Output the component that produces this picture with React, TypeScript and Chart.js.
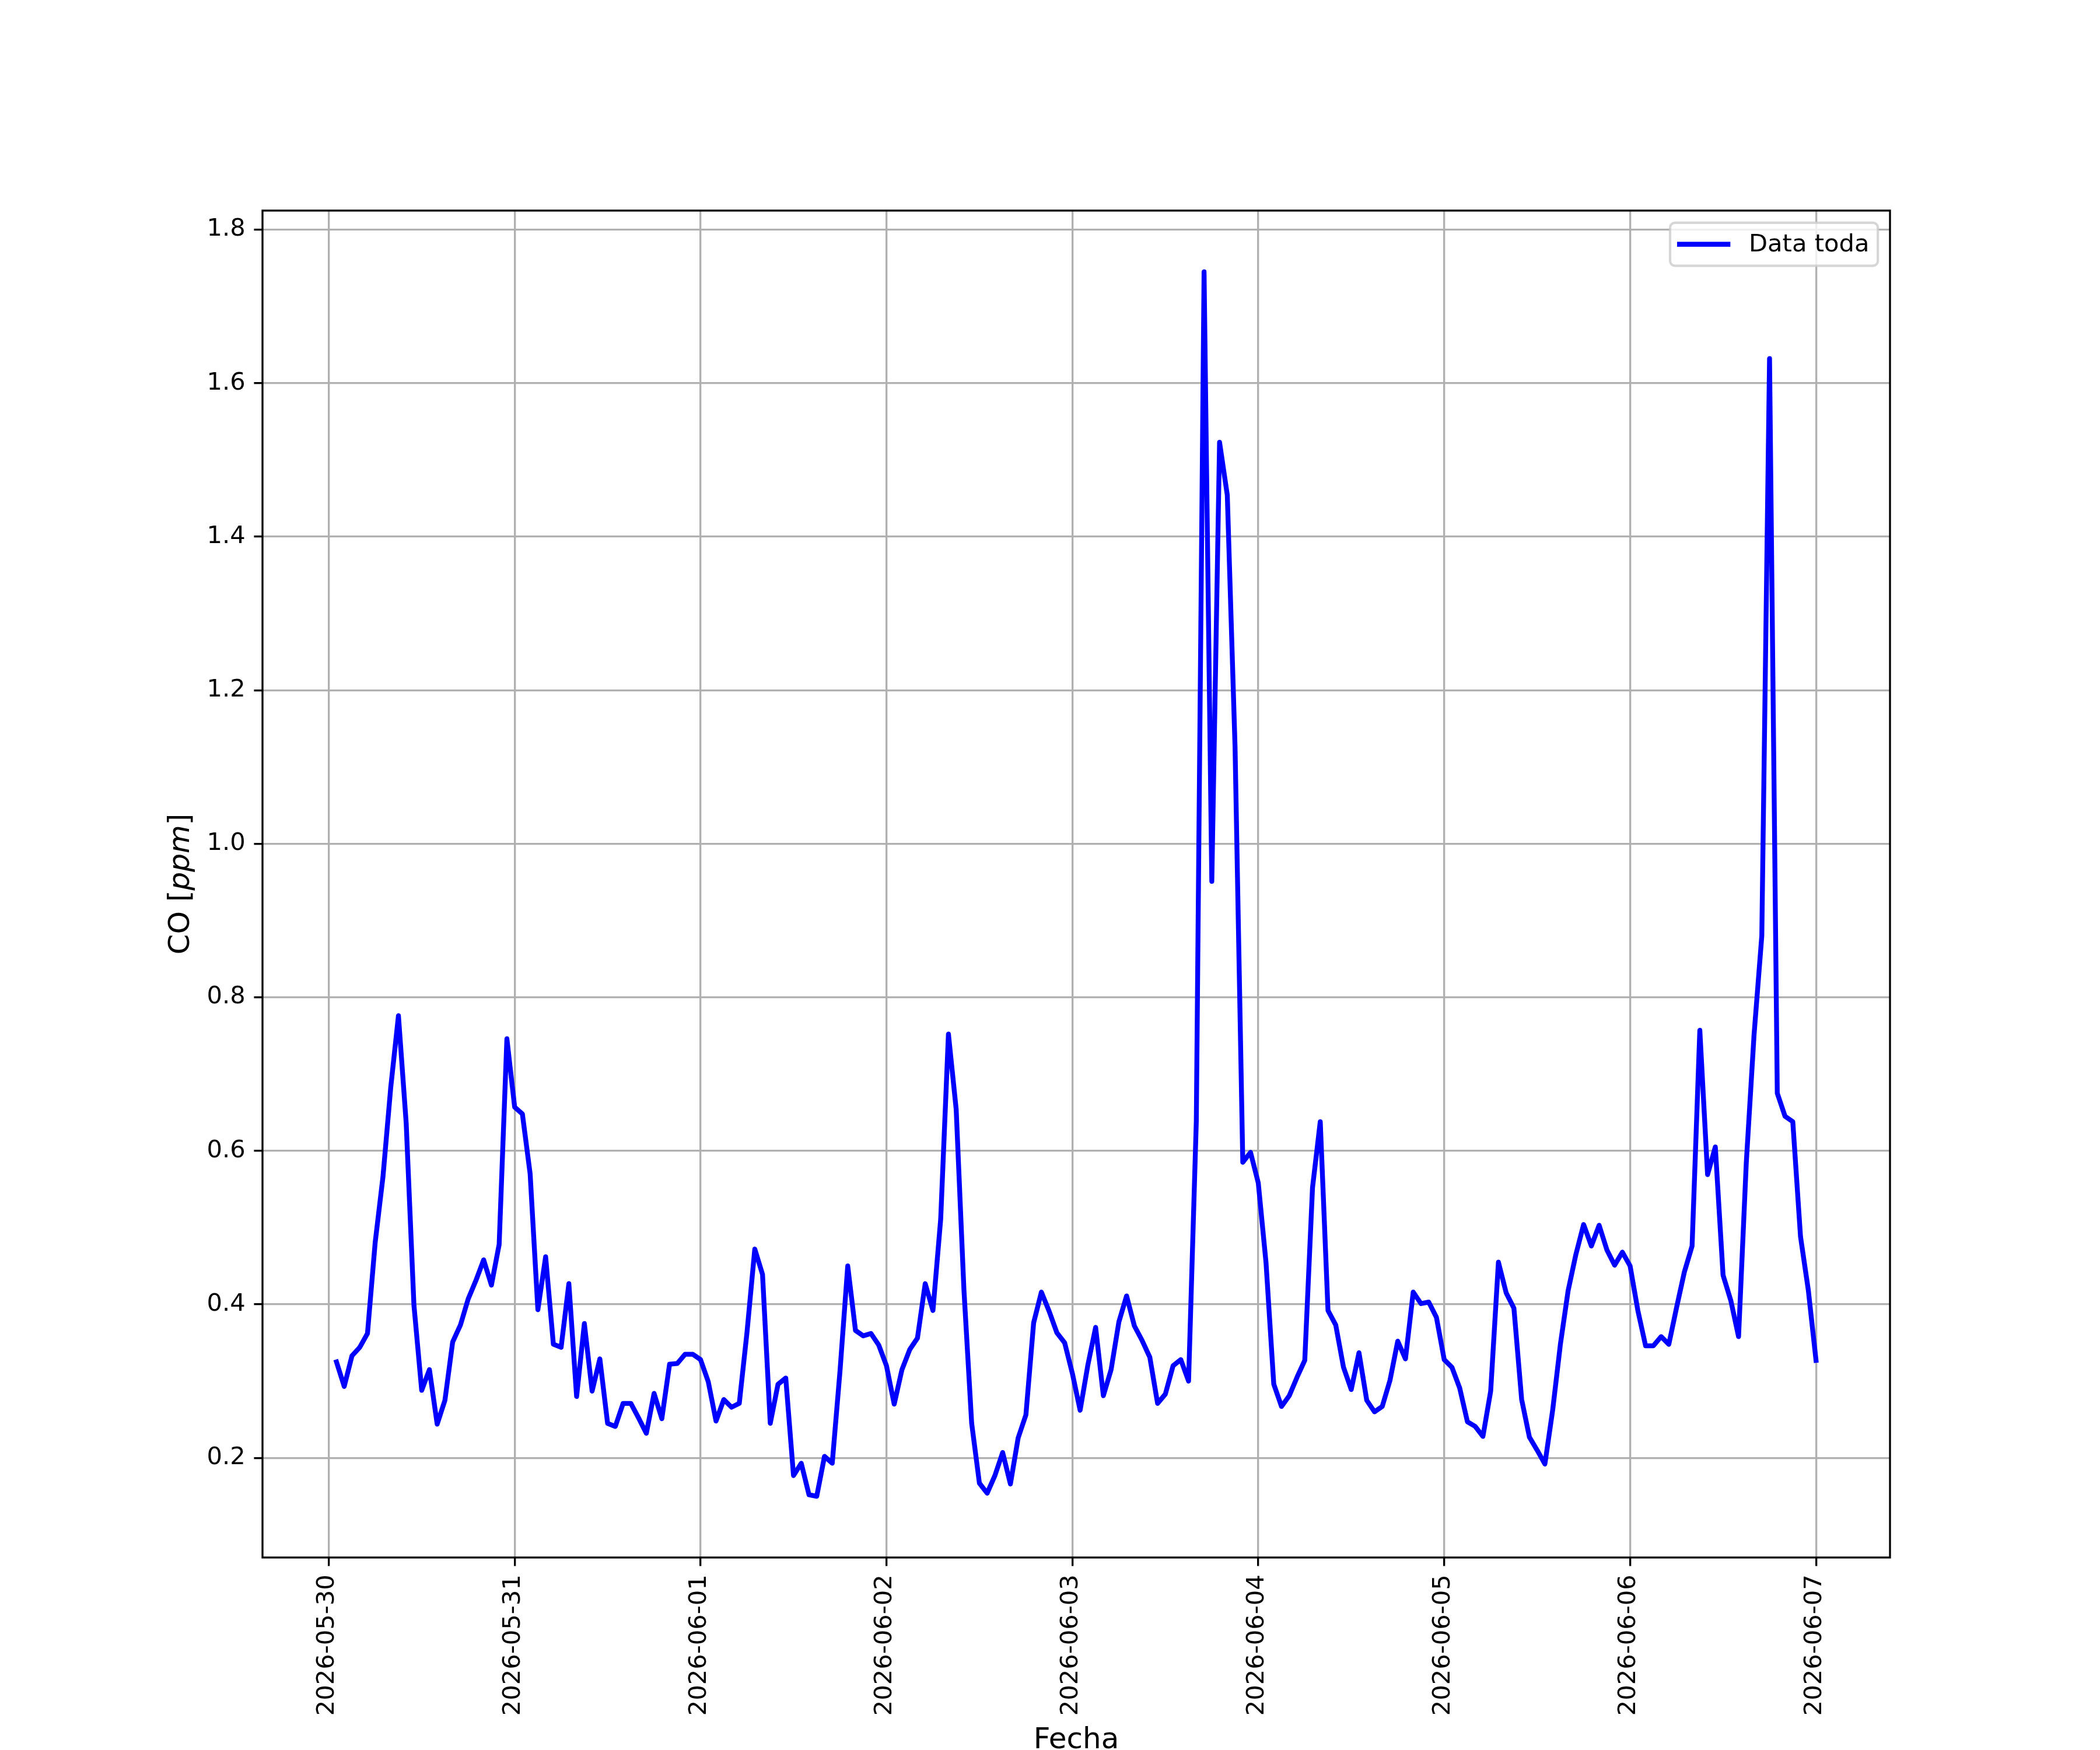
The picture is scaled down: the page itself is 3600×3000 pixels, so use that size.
import React, { useEffect, useRef } from "react";
import { Chart, registerables } from "chart.js";

Chart.register(...registerables);

// Tick labels for the x axis (one per day, at 00:00)
const dateLabels = [
  "2026-05-30", "2026-05-31", "2026-06-01", "2026-06-02", "2026-06-03",
  "2026-06-04", "2026-06-05", "2026-06-06", "2026-06-07",
];
const hoursPerDay = 24;
const firstHour = 1; // first reading: 2026-05-30 01:00

// Y tick values
const yTickValues = [0.2, 0.4, 0.6, 0.8, 1.0, 1.2, 1.4, 1.6, 1.8];

// Hourly CO readings [ppm], one array per day
const coDay1 = [0.325, 0.293, 0.333, 0.344, 0.362, 0.481, 0.566, 0.682, 0.776, 0.636, 0.399, 0.288, 0.315, 0.244, 0.275, 0.351, 0.373, 0.407, 0.431, 0.458, 0.425, 0.478, 0.746, 0.657];
const coDay2 = [0.648, 0.570, 0.393, 0.462, 0.348, 0.344, 0.427, 0.280, 0.375, 0.287, 0.329, 0.245, 0.241, 0.271, 0.271, 0.252, 0.232, 0.284, 0.251, 0.322, 0.323, 0.335, 0.335, 0.328];
const coDay3 = [0.299, 0.248, 0.276, 0.266, 0.271, 0.364, 0.472, 0.439, 0.245, 0.296, 0.304, 0.177, 0.193, 0.152, 0.150, 0.202, 0.193, 0.313, 0.450, 0.366, 0.359, 0.362, 0.347, 0.320];
const coDay4 = [0.270, 0.315, 0.341, 0.356, 0.427, 0.392, 0.511, 0.752, 0.654, 0.419, 0.245, 0.167, 0.154, 0.177, 0.207, 0.166, 0.226, 0.256, 0.376, 0.416, 0.391, 0.363, 0.350, 0.310];
const coDay5 = [0.262, 0.321, 0.370, 0.281, 0.315, 0.377, 0.411, 0.372, 0.353, 0.331, 0.271, 0.283, 0.320, 0.328, 0.300, 0.639, 1.745, 0.951, 1.523, 1.454, 1.126, 0.585, 0.598, 0.558];
const coDay6 = [0.454, 0.296, 0.267, 0.281, 0.305, 0.327, 0.552, 0.638, 0.392, 0.373, 0.318, 0.289, 0.337, 0.275, 0.260, 0.267, 0.301, 0.352, 0.329, 0.416, 0.401, 0.403, 0.383, 0.328];
const coDay7 = [0.318, 0.291, 0.247, 0.241, 0.228, 0.287, 0.455, 0.415, 0.395, 0.276, 0.227, 0.210, 0.192, 0.262, 0.348, 0.418, 0.465, 0.504, 0.476, 0.503, 0.471, 0.451, 0.468, 0.450];
const coDay8 = [0.392, 0.346, 0.346, 0.358, 0.348, 0.396, 0.442, 0.476, 0.757, 0.569, 0.605, 0.438, 0.405, 0.358, 0.585, 0.751, 0.880, 1.632, 0.675, 0.645, 0.638, 0.488, 0.419, 0.327];

const seriesLabel = "Data toda";
const xTitle = "Fecha";

const W = 3600;
const H = 3000;
const PT = 300 / 72; // px per point (figure at 300 dpi)
const FONT = '"DejaVu Sans"';
const TICK_FS = 10 * PT;
const LABEL_FS = 12 * PT;

export default function App() {
  const ref = useRef<HTMLCanvasElement | null>(null);

  useEffect(() => {
    const canvas = ref.current;
    if (!canvas) return;
    const allValues = [
      ...coDay1, ...coDay2, ...coDay3, ...coDay4,
      ...coDay5, ...coDay6, ...coDay7, ...coDay8,
    ];
    const points = allValues.map((v, i) => ({ x: firstHour + i, y: v }));
    const xTickValues = dateLabels.map((_, i) => i * hoursPerDay);

    // matplotlib-like 5% margins
    const xFirst = firstHour;
    const xLast = firstHour + allValues.length - 1;
    const xm = (xLast - xFirst) * 0.05;
    const yMinD = Math.min(...allValues);
    const yMaxD = Math.max(...allValues);
    const ym = (yMaxD - yMinD) * 0.05;

    const tickLen = 3.5 * PT;
    const tickPad = 3.5 * PT;
    const lw = 0.8 * PT;

    const decor = {
      id: "decor",
      afterDraw(chart: any) {
        const ctx = chart.ctx as CanvasRenderingContext2D;
        const a = chart.chartArea;
        const xs = chart.scales.x;
        ctx.save();
        // frame (spines)
        ctx.strokeStyle = "#000";
        ctx.lineWidth = lw;
        ctx.lineJoin = "miter";
        ctx.strokeRect(a.left, a.top, a.right - a.left, a.bottom - a.top);

        // x tick labels, rotated 90 degrees
        ctx.fillStyle = "#000";
        ctx.font = `${TICK_FS}px ${FONT}`;
        ctx.textAlign = "right";
        ctx.textBaseline = "middle";
        dateLabels.forEach((lab, i) => {
          const px = xs.getPixelForValue(xTickValues[i]);
          ctx.save();
          ctx.translate(px - 2, a.bottom + tickLen + tickPad);
          ctx.rotate(-Math.PI / 2);
          ctx.fillText(lab, 0, 0);
          ctx.restore();
        });

        // x title
        ctx.font = `${LABEL_FS}px ${FONT}`;
        ctx.textAlign = "center";
        ctx.textBaseline = "alphabetic";
        ctx.fillText(xTitle, (a.left + a.right) / 2, 2997);

        // y title: CO [ppm] with italic ppm
        const partA = "CO [";
        const partB = "ppm";
        const partC = "]";
        const fN = `${LABEL_FS}px ${FONT}`;
        const fI = `italic ${LABEL_FS}px ${FONT}`;
        ctx.font = fN;
        const wA = ctx.measureText(partA).width;
        const wC = ctx.measureText(partC).width;
        ctx.font = fI;
        const wB = ctx.measureText(partB).width;
        const total = wA + wB + wC;
        ctx.save();
        ctx.translate(324, (a.top + a.bottom) / 2);
        ctx.rotate(-Math.PI / 2);
        ctx.textAlign = "left";
        ctx.textBaseline = "alphabetic";
        let cx = -total / 2;
        ctx.font = fN;
        ctx.fillText(partA, cx, 0);
        cx += wA;
        ctx.font = fI;
        ctx.fillText(partB, cx, 0);
        cx += wB;
        ctx.font = fN;
        ctx.fillText(partC, cx, 0);
        ctx.restore();

        // legend
        const fs = TICK_FS;
        const bx2 = a.right - 0.5 * fs;
        const by1 = a.top + 0.5 * fs;
        const bx1 = 2863;
        const by2 = 455.7;
        const r = 0.2 * fs;
        ctx.beginPath();
        ctx.moveTo(bx1 + r, by1);
        ctx.lineTo(bx2 - r, by1);
        ctx.arcTo(bx2, by1, bx2, by1 + r, r);
        ctx.lineTo(bx2, by2 - r);
        ctx.arcTo(bx2, by2, bx2 - r, by2, r);
        ctx.lineTo(bx1 + r, by2);
        ctx.arcTo(bx1, by2, bx1, by2 - r, r);
        ctx.lineTo(bx1, by1 + r);
        ctx.arcTo(bx1, by1, bx1 + r, by1, r);
        ctx.closePath();
        ctx.fillStyle = "rgba(255,255,255,0.8)";
        ctx.fill();
        ctx.strokeStyle = "rgba(204,204,204,0.8)";
        ctx.lineWidth = 1.0 * PT;
        ctx.stroke();
        const ly = (by1 + by2) / 2;
        ctx.beginPath();
        ctx.moveTo(bx1 + 12, ly);
        ctx.lineTo(bx1 + 12 + 2 * fs + 8, ly);
        ctx.strokeStyle = "#0000ff";
        ctx.lineWidth = 2 * PT;
        ctx.lineCap = "butt";
        ctx.stroke();
        ctx.fillStyle = "#000";
        ctx.font = `${fs}px ${FONT}`;
        ctx.textAlign = "left";
        ctx.textBaseline = "alphabetic";
        ctx.fillText(seriesLabel, 2998, 430.5);
        ctx.restore();
      },
    };

    const chart = new Chart(canvas, {
      type: "line",
      data: {
        datasets: [
          {
            label: seriesLabel,
            data: points,
            borderColor: "#0000ff",
            backgroundColor: "#0000ff",
            borderWidth: 2 * PT,
            pointRadius: 0,
            pointHoverRadius: 0,
            tension: 0,
            fill: false,
            borderJoinStyle: "round",
            borderCapStyle: "square",
          },
        ],
      },
      options: {
        animation: false,
        responsive: false,
        devicePixelRatio: 1,
        events: [],
        layout: { padding: { left: 0, top: 361, right: 360, bottom: 0 } },
        plugins: {
          legend: { display: false },
          title: { display: false },
          tooltip: { enabled: false },
        },
        scales: {
          x: {
            type: "linear",
            min: xFirst - xm,
            max: xLast + xm,
            afterBuildTicks: (s: any) => {
              s.ticks = xTickValues.map((v) => ({ value: v }));
            },
            afterFit: (s: any) => {
              s.height = 330;
            },
            ticks: { display: false, autoSkip: false },
            grid: {
              color: "#b0b0b0",
              lineWidth: lw,
              drawTicks: true,
              tickLength: tickLen,
              tickColor: "#000",
              tickWidth: lw,
            },
            border: { display: false },
          },
          y: {
            type: "linear",
            min: yMinD - ym,
            max: yMaxD + ym,
            afterBuildTicks: (s: any) => {
              s.ticks = yTickValues.map((v) => ({ value: v }));
            },
            afterFit: (s: any) => {
              s.width = 450;
            },
            ticks: {
              autoSkip: false,
              padding: tickPad,
              color: "#000",
              font: { family: "DejaVu Sans", size: TICK_FS },
              callback: (v: any) => Number(v).toFixed(1),
            },
            grid: {
              color: "#b0b0b0",
              lineWidth: lw,
              drawTicks: true,
              tickLength: tickLen,
              tickColor: "#000",
              tickWidth: lw,
            },
            border: { display: false },
          },
        },
      },
      plugins: [decor],
    });
    return () => chart.destroy();
  }, []);

  return (
    <div style={{ position: "absolute", left: 0, top: 0, width: W, height: H, background: "#fff" }}>
      <canvas ref={ref} width={W} height={H} style={{ width: W, height: H, display: "block" }} />
    </div>
  );
}
